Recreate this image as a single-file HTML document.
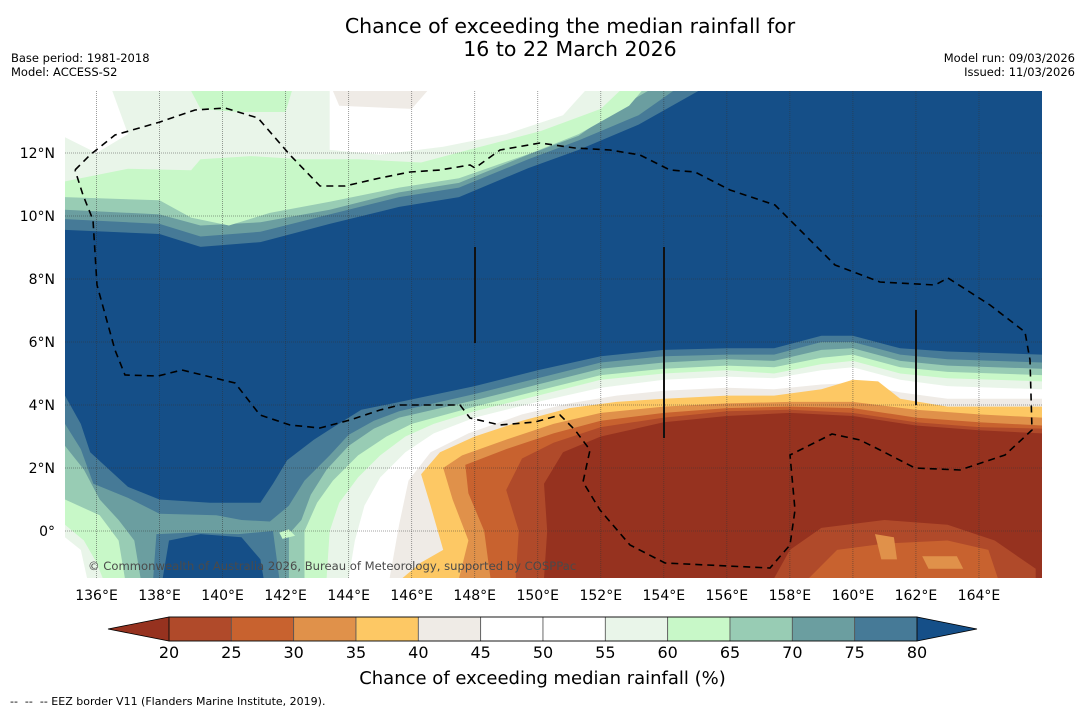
<!DOCTYPE html>
<html><head><meta charset="utf-8">
<style>
body{margin:0;background:#fff;font-family:"DejaVu Sans","Liberation Sans",sans-serif;}
#wrap{position:relative;width:1085px;height:713px;overflow:hidden;background:#fff;}
.t{position:absolute;white-space:nowrap;color:#000;}
</style></head>
<body>
<div id="wrap">
<div class="t" style="left:0;width:1140px;text-align:center;top:15px;font-size:20.5px;line-height:23px;">Chance of exceeding the median rainfall for<br>16 to 22 March 2026</div>
<div class="t" style="left:11px;top:51px;font-size:11.5px;line-height:14px;">Base period: 1981-2018<br>Model: ACCESS-S2</div>
<div class="t" style="right:10px;top:51px;font-size:11.5px;line-height:14px;text-align:right;">Model run: 09/03/2026<br>Issued: 11/03/2026</div>
<svg id="map" width="1085" height="713" style="position:absolute;left:0;top:0"></svg>
<div class="t" style="left:0;width:1085px;text-align:center;top:668px;font-size:18px;">Chance of exceeding median rainfall (%)</div>
<div class="t" style="left:10px;top:695px;font-size:11px;">--&nbsp; --&nbsp; -- EEZ border V11 (Flanders Marine Institute, 2019).</div>
</div>
<script>
const lonTicks=[136,138,140,142,144,146,148,150,152,154,156,158,160,162,164];
const latTicks=[0,2,4,6,8,10,12];
const cbLevels=[20,25,30,35,40,45,50,55,60,65,70,75,80];
const cbColors=["#b04a2a","#c8622f","#e0914a","#fdc864","#efebe6","#ffffff","#ffffff","#e9f5e9","#c8f8c8","#98ccb4","#6b9ea0","#467a97"];
const lowColor="#96321f", highColor="#154f88";
const northBands=[
["b75",[[135,9.56],[138,9.43],[139.3,9.02],[141.2,9.17],[143.4,9.75],[145.6,10.29],[147.5,10.6],[149.7,11.52],[151.3,12.1],[153.2,12.9],[155.1,13.97],[135,13.97]]],
["b70",[[135,9.9],[138,9.75],[139.3,9.35],[141.2,9.5],[143.4,10.05],[145.6,10.6],[147.5,10.9],[149.7,11.8],[151.3,12.4],[153.2,13.2],[154.3,13.97],[135,13.97]]],
["b65",[[135,10.2],[138,10.05],[139.3,9.7],[141.2,9.8],[143.4,10.2],[145.6,10.75],[147.5,11.05],[149.7,11.95],[151.3,12.55],[152.5,13.4],[153.5,13.97],[135,13.97]]],
["b60",[[135,10.6],[138,10.5],[139,9.95],[140.2,9.7],[141.5,10.1],[143.4,10.45],[145.6,10.9],[147.5,11.2],[149.8,12.0],[151.3,12.6],[152.9,13.5],[153.3,13.97],[135,13.97]]],
["b55",[[135,11.1],[137,11.5],[139,11.45],[139.3,11.8],[140.9,11.9],[142.5,11.8],[144.3,11.8],[146.3,11.7],[147.8,12.1],[150.1,12.7],[152,13.4],[152.6,13.97],[135,13.97]]],
["b50",[[143.4,13.97],[143.4,12.1],[145,11.95],[147,12.2],[149,12.6],[150.8,13.2],[151.5,13.97]]],
["b50",[[135,12.5],[136,12.0],[137,12.6],[136.5,13.97],[135,13.97]]],
["b60",[[139,13.97],[139.3,13.4],[140.5,13.3],[142,13.3],[142.2,13.97]]],
["b45",[[143.5,13.97],[143.7,13.5],[146,13.4],[146.5,13.97]]]
];
const southBands=[
["b75",[[135,4.3],[135.5,3.4],[135.8,2.5],[137,1.4],[138,1.0],[139.6,0.9],[141.2,0.9],[141.6,1.5],[142.05,2.25],[142.9,2.9],[143.6,3.35],[144.4,3.85],[145.4,4.05],[148,4.6],[150,5.1],[152,5.55],[154,5.75],[156,5.8],[157.5,5.8],[159,6.2],[160,6.2],[161.5,5.8],[163,5.7],[166,5.6],[166,-1.5],[135,-1.5]]],
["b70",[[135,3.4],[135.5,2.6],[135.9,1.5],[137,1.05],[138,0.55],[139.8,0.5],[140.6,0.35],[141.5,0.3],[142.1,0.8],[142.6,1.6],[143.4,2.4],[144,3.05],[144.8,3.5],[145.6,3.8],[148,4.35],[150,4.85],[152,5.35],[154,5.55],[156,5.6],[157.5,5.6],[159,6.0],[160,6.0],[161.5,5.6],[163,5.45],[166,5.35],[166,-1.5],[135,-1.5]]],
["b65",[[135,2.7],[135.6,1.95],[136.1,1.0],[136.7,0.35],[137.2,-0.3],[137.4,-1.5],[135,-1.5]]],
["b65",[[142.1,-1.5],[142.1,-0.1],[142.5,0.35],[142.8,1.15],[143.3,1.95],[144,2.7],[144.8,3.25],[145.6,3.6],[148,4.15],[150,4.65],[152,5.15],[154,5.35],[156,5.45],[157.5,5.4],[159,5.75],[160,5.8],[161.5,5.4],[163,5.25],[166,5.15],[166,-1.5]]],
["b60",[[135,1.0],[136.1,0.5],[136.7,-0.3],[136.9,-1.5],[135,-1.5]]],
["b55",[[135,0.2],[135.6,-0.3],[136,-1.0],[136.2,-1.5],[135,-1.5]]],
["b50",[[135,-0.2],[135.5,-0.6],[135.7,-1.5],[135,-1.5]]],
["b60",[[142.6,-1.5],[142.6,0],[143,0.9],[143.5,1.6],[144.3,2.4],[145.2,3.0],[146,3.4],[148,3.95],[150,4.45],[152,4.95],[154,5.15],[156,5.25],[157.5,5.2],[159,5.5],[160,5.6],[161.5,5.2],[163,5.05],[166,4.95],[166,-1.5]]],
["b55",[[143.3,-1.5],[143.4,0],[143.7,0.9],[144.3,1.7],[145,2.4],[145.8,3.0],[146.7,3.4],[148,3.8],[150,4.3],[152,4.8],[154,5.0],[156,5.1],[157.5,5.0],[159,5.3],[160,5.4],[161.5,5.0],[163,4.85],[166,4.75],[166,-1.5]]],
["b50",[[144,-1.5],[144.2,-0.3],[144.5,0.8],[145,1.7],[145.8,2.5],[146.7,3.1],[148,3.6],[150,4.1],[152,4.55],[154,4.8],[156,4.9],[157.5,4.85],[159,5.1],[160,5.2],[161.5,4.8],[163,4.6],[166,4.5],[166,-1.5]]],
["b45",[[145.3,-1.5],[145.6,0.2],[145.9,1.6],[146.6,2.5],[147.8,3.1],[149.5,3.7],[151,4.05],[152.5,4.3],[154,4.45],[156,4.55],[157.5,4.5],[159,4.65],[160,4.7],[161.5,4.4],[163,4.2],[166,4.2],[166,-1.5]]],
["b40",[[145.7,-1.5],[146.3,-1.0],[147,-0.6],[146.6,0.8],[146.3,1.8],[146.9,2.5],[148,3.0],[149.5,3.5],[151,3.9],[152.5,4.1],[154,4.2],[156,4.3],[157.5,4.3],[159,4.5],[160,4.8],[160.8,4.75],[161.5,4.2],[163,3.95],[166,3.95],[166,-1.5]]],
["b35",[[147.5,-1.5],[147.8,-0.3],[147.3,1.0],[147,2.0],[147.6,2.4],[149,2.9],[150.5,3.4],[152,3.75],[154,3.95],[156,4.05],[158,4.1],[160,4.1],[162,3.85],[164,3.7],[166,3.6],[166,-1.5]]],
["b30",[[148.5,-1.5],[148.3,0],[147.8,1.2],[147.7,2.1],[149,2.6],[150.5,3.1],[152,3.5],[154,3.75],[156,3.9],[158,3.95],[160,3.9],[162,3.6],[164,3.45],[166,3.35],[166,-1.5]]],
["b25",[[149.3,-1.5],[149.4,0],[149,1.3],[149.5,2.3],[150.5,2.8],[152,3.3],[154,3.6],[156,3.8],[158,3.85],[160,3.75],[162,3.45],[164,3.3],[166,3.25],[166,-1.5]]],
["b20",[[150.2,-1.5],[150.3,0],[150.2,1.5],[150.8,2.5],[152,3.0],[154,3.45],[156,3.65],[158,3.75],[160,3.65],[162,3.35],[164,3.2],[166,3.1],[166,-1.5]]],
["b25",[[157.5,-1.5],[158,-0.6],[159,0.1],[161,0.35],[163,0.2],[164.5,-0.3],[165.8,-1.2],[165.8,-1.5]]],
["b30",[[158.6,-1.5],[159.5,-0.6],[161,-0.4],[163,-0.3],[164.3,-0.6],[164.6,-1.5]]],
["b35",[[160.7,-0.1],[161.3,-0.2],[161.4,-0.9],[160.9,-0.9]]],
["b35",[[162.2,-0.8],[163.3,-0.8],[163.5,-1.2],[162.4,-1.2]]],
["b70",[[137.4,-1.5],[137.5,0.1],[138.5,0.3],[140,0.25],[141.5,0.15],[142.1,-0.1],[142.1,-1.5]]],
["b75",[[137.8,-1.5],[137.9,-0.1],[139,-0.05],[140.5,-0.1],[141.6,0],[141.8,-1.5]]],
["b80",[[138.1,-1.5],[138.3,-0.3],[139.3,-0.1],[140.6,-0.2],[141.2,-0.9],[141.3,-1.5]]],
["b60",[[141.8,-0.05],[142.1,0.05],[142.3,-0.15],[141.9,-0.25]]]
];
const colorOf={b20:lowColor,b25:cbColors[0],b30:cbColors[1],b35:cbColors[2],b40:cbColors[3],b45:cbColors[4],b50:cbColors[5],b55:cbColors[7],b60:cbColors[8],b65:cbColors[9],b70:cbColors[10],b75:cbColors[11],b80:highColor};
const eezPx=[[75,170],[90,155],[115,135],[160,122],[195,110],[225,108],[258,118],[290,155],[320,186],[345,186],[380,178],[410,172],[440,170],[470,165],[475,168],[500,150],[540,143],[575,148],[610,150],[640,155],[670,170],[695,172],[730,190],[775,205],[800,230],[835,265],[880,282],[935,285],[948,278],[990,305],[1025,332],[1030,360],[1032,430],[1005,455],[960,470],[915,468],[880,450],[860,440],[832,434],[790,455],[795,510],[790,545],[770,568],[665,563],[630,545],[600,510],[583,482],[590,450],[575,430],[560,415],[535,422],[500,425],[470,418],[460,405],[430,405],[400,405],[380,410],[350,420],[320,428],[290,425],[260,415],[235,383],[182,370],[158,376],[125,375],[115,350],[97,285],[93,220],[83,195],[75,170]];

const X0=65,X1=1042,Y0=91,Y1=578;
const lonMin=135,lonMax=166,latMax=(531-91)/31.5,latMin=(531-578)/31.5;
const xS=lon=>X0+(lon-lonMin)/(lonMax-lonMin)*(X1-X0);
const yS=lat=>Y0+(latMax-lat)/(latMax-latMin)*(Y1-Y0);
const NS="http://www.w3.org/2000/svg";
const svg=document.getElementById('map');
const FF='DejaVu Sans, Liberation Sans, sans-serif';
function mk(tag,attrs,parent){const e=document.createElementNS(NS,tag);for(const k in attrs)e.setAttribute(k,attrs[k]);(parent||svg).appendChild(e);return e;}
const defs=mk('defs',{});
const cp=mk('clipPath',{id:'clip'},defs);mk('rect',{x:X0,y:Y0,width:X1-X0,height:Y1-Y0},cp);
const g=mk('g',{'clip-path':'url(#clip)'});


const bg=mk('rect',{x:X0,y:Y0,width:X1-X0,height:Y1-Y0,fill:highColor},g);


[...northBands,...southBands].forEach(b=>{
  const p=mk('polygon',{points:b[1].map(q=>xS(q[0]).toFixed(1)+','+yS(q[1]).toFixed(1)).join(' '),fill:colorOf[b[0]]},g);
  
  
});
lonTicks.forEach(l=>{const e=mk('line',{x1:xS(l),x2:xS(l),y1:Y0,y2:Y1,stroke:'#333','stroke-width':0.8,'stroke-dasharray':'1,1','stroke-opacity':0.6},g);

});
latTicks.forEach(l=>{const e=mk('line',{x1:X0,x2:X1,y1:yS(l),y2:yS(l),stroke:'#333','stroke-width':0.8,'stroke-dasharray':'1,1','stroke-opacity':0.6},g);

});
const eez=mk('polyline',{points:eezPx.map(p=>p.join(',')).join(' '),fill:'none',stroke:'#000','stroke-width':1.6,'stroke-dasharray':'7,5'},g);


[[475,247,343],[664,247,438],[916,310,405]].forEach(v=>{const e=mk('line',{x1:v[0],x2:v[0],y1:v[1],y2:v[2],stroke:'#111','stroke-width':2},g);

});
const cr=mk('text',{x:88,y:570,'font-size':11.6,fill:'#4a4a4a','font-family':FF},g);
cr.textContent='© Commonwealth of Australia 2026, Bureau of Meteorology, supported by COSPPac';


lonTicks.forEach(l=>{const t=mk('text',{x:xS(l),y:600,'font-size':14,'text-anchor':'middle','font-family':FF});t.textContent=l+'°E';

});
latTicks.forEach(l=>{const t=mk('text',{x:55,y:yS(l)+5,'font-size':14,'text-anchor':'end','font-family':FF});t.textContent=l===0?'0°':l+'°N';

});
const cx0=169,cx1=917,cy0=617,cy1=641;
const cbx=v=>cx0+(v-cbLevels[0])/(cbLevels[cbLevels.length-1]-cbLevels[0])*(cx1-cx0);
const lt=mk('polygon',{points:`108,629 ${cx0},${cy0} ${cx0},${cy1}`,fill:lowColor,stroke:'#000','stroke-width':0.8});


const rt=mk('polygon',{points:`977,629 ${cx1},${cy0} ${cx1},${cy1}`,fill:highColor,stroke:'#000','stroke-width':0.8});


cbColors.forEach((c,i)=>{const r=mk('rect',{x:cbx(cbLevels[i]),y:cy0,width:cbx(cbLevels[i+1])-cbx(cbLevels[i]),height:cy1-cy0,fill:c,stroke:'#555','stroke-width':0.8});

});
mk('rect',{x:cx0,y:cy0,width:cx1-cx0,height:cy1-cy0,fill:'none',stroke:'#000','stroke-width':0.8});
cbLevels.forEach(v=>{const t=mk('text',{x:cbx(v),y:658,'font-size':16,'text-anchor':'middle','font-family':FF});t.textContent=v;

});
</script>
</body></html>
